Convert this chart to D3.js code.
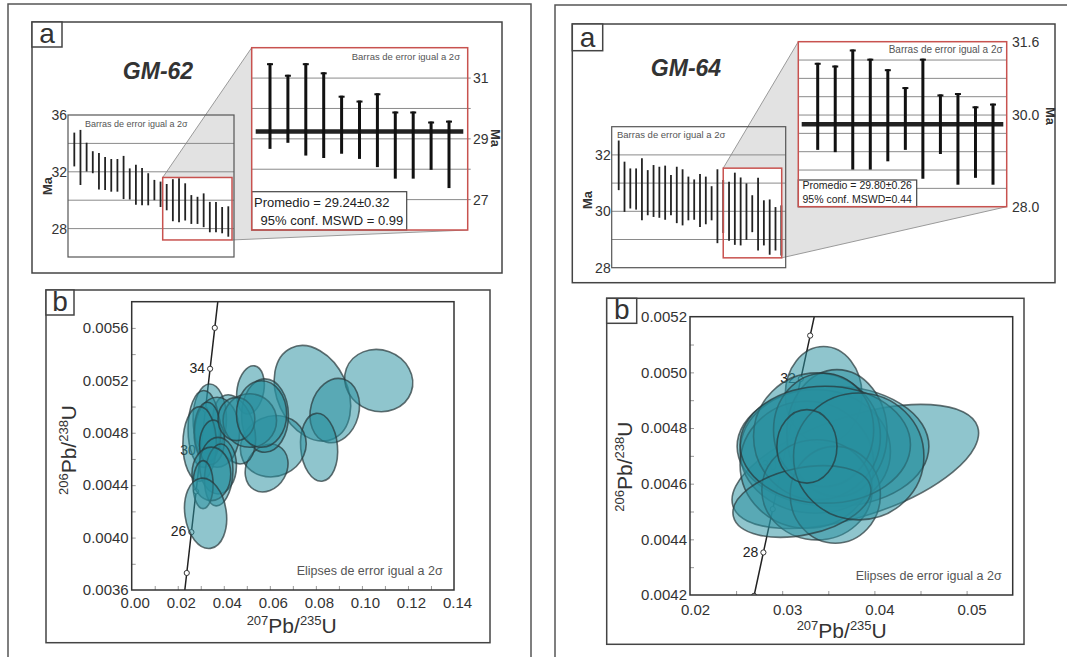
<!DOCTYPE html>
<html>
<head>
<meta charset="utf-8">
<script src="https://cdn.jsdelivr.net/npm/d3@7"></script>
<style>
body{margin:0;background:#fff;}
svg{display:block;}
</style>
</head>
<body>
<script>
var FONT = '"Liberation Sans", Arial, sans-serif';

// ---- a) weighted mean ages, Ma (2 sigma bars) ----
var gm62Hi = [34.76,34.95,34.05,33.45,33.33,33.05,32.90,32.90,33.12,32.24,32.50,32.26,31.90,31.43,31.31,31.14,31.48,31.55,31.19,30.36,30.24,30.48,29.88,29.88,29.52,29.57];
var gm62Lo = [32.38,31.07,32.02,31.90,30.76,30.71,30.60,30.60,30.08,30.05,29.68,29.64,29.64,30.00,29.52,29.29,28.52,28.45,28.57,28.33,28.33,28.10,27.74,27.74,27.67,27.43];
// zoomed (last 11 grains)
var gm62ZHi = [31.49,31.11,31.49,31.19,30.42,30.26,30.50,29.90,29.90,29.57,29.60];
var gm62ZLo = [28.67,28.87,28.45,28.37,28.51,28.34,28.07,27.69,27.69,27.98,27.38];
var gm62Mean = 29.24;

var gm64Hi = [32.51,31.76,31.52,31.52,31.88,31.46,31.64,31.58,31.62,31.29,31.58,31.49,31.23,31.13,31.32,31.23,30.89,31.49,31.11,31.05,31.37,31.20,30.99,30.57,31.19,30.39,30.42,30.15,30.21];
var gm64Lo = [30.75,29.98,30.10,30.06,29.68,29.86,29.80,29.77,29.70,29.86,29.58,29.50,29.68,29.70,29.44,29.54,29.68,28.87,29.23,28.96,28.81,28.79,28.99,29.26,28.61,28.79,28.46,28.61,28.43];
var gm64ZHi = [31.14,31.08,31.43,31.23,31.00,30.61,31.23,30.45,30.48,30.19,30.25];
var gm64ZLo = [29.24,29.19,28.81,28.81,28.99,29.24,28.61,29.15,28.48,28.63,28.48];
var gm64Mean = 29.80;

// tick labels
var gm62SmallTicks = [36,32,28];
var gm62SmallGrid = [28,30,32,34];
var gm62ZoomTicks = [31,29,27];
var gm62ZoomGrid = [27,28,29,30,31];
var gm64SmallTicks = [32,30,28];
var gm64SmallGrid = [29,30,31,32];
var gm64ZoomTicks = [31.6,30.0,28.0];
var gm64ZoomGrid = [28.4,28.8,29.2,29.6,30.0,30.4,30.8,31.2];

// ---- b) concordia ----
// [207Pb/235U, 206Pb/238U, 2s x, 2s y, tilt deg]
var gm62Ell = [
  [0.0785,0.005101,0.01527,0.000382,-25],
  [0.1073,0.005198,0.01497,0.000234,20],
  [0.0882,0.004969,0.01047,0.000249,15],
  [0.0814,0.004689,0.0080,0.000260,-5],
  [0.0615,0.004697,0.01454,0.000229,-25],
  [0.0586,0.004531,0.00872,0.000191,30],
  [0.0516,0.005127,0.00582,0.000186,10],
  [0.0579,0.004931,0.01018,0.000280,0],
  [0.0445,0.004826,0.00872,0.000270,-15],
  [0.0339,0.004905,0.00727,0.000267,0],
  [0.0313,0.004829,0.00683,0.000293,0],
  [0.0371,0.004804,0.00974,0.000267,0],
  [0.0329,0.004804,0.00582,0.000229,0],
  [0.0295,0.004714,0.00727,0.000285,0],
  [0.0349,0.004727,0.00538,0.000170,5],
  [0.0375,0.004549,0.00800,0.000216,0],
  [0.0378,0.004478,0.00610,0.000237,5],
  [0.0346,0.004486,0.00843,0.000204,0],
  [0.0310,0.004404,0.00436,0.000183,0],
  [0.0321,0.004185,0.00900,0.000270,-8],
  [0.0513,0.004893,0.01163,0.000204,0],
  [0.0455,0.004905,0.00800,0.000165,0],
  [0.0564,0.004943,0.01090,0.000254,0]
];
var gm64Ell = [
  [0.03449,0.004919,0.004167,0.000174,0],
  [0.03793,0.004662,0.01395,0.000180,-18],
  [0.03551,0.004734,0.01040,0.000216,0],
  [0.03359,0.004716,0.00815,0.000222,0],
  [0.03268,0.004668,0.00725,0.000228,0],
  [0.03594,0.004782,0.00544,0.000228,0],
  [0.03377,0.004770,0.00688,0.000228,0],
  [0.03449,0.004793,0.00543,0.000204,0],
  [0.03377,0.004578,0.00598,0.000180,0],
  [0.03576,0.004560,0.00489,0.000174,0],
  [0.03467,0.004740,0.00924,0.000210,0],
  [0.03214,0.004536,0.00761,0.000120,-12],
  [0.03830,0.004698,0.00707,0.000228,0],
  [0.03268,0.004734,0.00326,0.000132,0]
];

// concordia points, age Ma -> ratios
var concAge = [22,23,24,25,26,27,28,29,30,31,32,33,34,35,36,37,38,39,40];
var concR7 = [0.021903,0.022910,0.023918,0.024927,0.025937,0.026948,0.027960,0.028973,0.029986,0.031001,0.032017,0.033034,0.034052,0.035071,0.036091,0.037112,0.038133,0.039156,0.040180];
var concR6 = [0.0034186,0.0035742,0.0037299,0.0038857,0.0040414,0.0041971,0.0043529,0.0045087,0.0046646,0.0048204,0.0049763,0.0051322,0.0052882,0.0054441,0.0056001,0.0057561,0.0059121,0.0060682,0.0062243];

var gm62XTicks = [0,0.02,0.04,0.06,0.08,0.10,0.12,0.14];
var gm62YTicks = [0.0036,0.0040,0.0044,0.0048,0.0052,0.0056];
var gm62XMinor = [0.01,0.02,0.03,0.04,0.05,0.06,0.07,0.08,0.09,0.10,0.11,0.12,0.13];
var gm62YMinor = [0.0038,0.0040,0.0042,0.0044,0.0046,0.0048,0.0050,0.0052,0.0054,0.0056];
var gm64XTicks = [0.02,0.03,0.04,0.05];
var gm64YTicks = [0.0042,0.0044,0.0046,0.0048,0.0050,0.0052];
var gm64XMinor = [0.025,0.03,0.035,0.04,0.045,0.05];
var gm64YMinor = [0.0043,0.0044,0.0045,0.0046,0.0047,0.0048,0.0049,0.0050,0.0051];


var svg = d3.select("body").append("svg")
  .attr("width", 1067).attr("height", 657)
  .style("font-family", FONT);

// outer frames (run off the page)
svg.append("rect").attr("x", 8).attr("y", 4).attr("width", 523).attr("height", 700)
  .attr("fill", "none").attr("stroke", "#555").attr("stroke-width", 1.5);
svg.append("rect").attr("x", 555).attr("y", 5).attr("width", 600).attr("height", 700)
  .attr("fill", "none").attr("stroke", "#555").attr("stroke-width", 1.5);

var RED = "#c8524f";

function letterBox(g, x, y, w, h, t){
  g.append("rect").attr("x", x).attr("y", y).attr("width", w).attr("height", h)
    .attr("fill", "#fff").attr("stroke", "#444").attr("stroke-width", 1.5);
  g.append("text").attr("x", x + w/2).attr("y", y + h - 4).attr("text-anchor", "middle")
    .attr("font-size", 28).attr("fill", "#333").text(t);
}

function panelA(o){
  var g = svg.append("g");
  g.append("rect").attr("x", o.box[0]).attr("y", o.box[1]).attr("width", o.box[2]).attr("height", o.box[3])
    .attr("fill", "#fff").attr("stroke", "#444").attr("stroke-width", 1.5);
  letterBox(g, o.box[0], o.box[1], o.lab[0], o.lab[1], "a");

  g.append("text").attr("x", o.title[0]).attr("y", o.title[1]).attr("text-anchor", "middle")
    .attr("font-size", 23).attr("font-weight", "bold").attr("font-style", "italic")
    .attr("fill", "#333").text(o.name);

  var sf = o.sf, ins = o.inset;
  var sy = d3.scaleLinear().domain(o.sDom).range([sf[1] + sf[3], sf[1]]);
  var sx = d3.scaleLinear().domain([0, o.hi.length - 1]).range(o.barX);
  var iy = d3.scaleLinear().domain(o.iDom).range([ins[1] + ins[3], ins[1]]);
  var ix = d3.scaleLinear().domain([0, o.zHi.length - 1]).range(o.zX);

  // the zoom box in the small plot
  var rb = {x0: sx(o.zIdx[0]) - o.zPad[0], x1: sx(o.zIdx[1]) + o.zPad[1],
            y0: sy(o.zAge[1]), y1: sy(o.zAge[0])};

  // grey zoom wedge
  g.append("path")
    .attr("d", d3.line()([[rb.x0, rb.y0], [ins[0], ins[1]], [ins[0] + ins[2], ins[1] + ins[3]], [rb.x1, rb.y1], [rb.x1, rb.y0]]) + "Z")
    .attr("fill", "#e2e2e2");
  g.append("line").attr("x1", rb.x0).attr("y1", rb.y0).attr("x2", ins[0]).attr("y2", ins[1])
    .attr("stroke", "#9a9a9a");
  g.append("line").attr("x1", rb.x1).attr("y1", rb.y1).attr("x2", ins[0] + ins[2]).attr("y2", ins[1] + ins[3])
    .attr("stroke", "#9a9a9a");

  // small plot
  g.selectAll(".sg").data(o.sGrid).enter().append("line")
    .attr("x1", sf[0]).attr("x2", sf[0] + sf[2])
    .attr("y1", function(d){ return sy(d); }).attr("y2", function(d){ return sy(d); })
    .attr("stroke", "#8a8a8a").attr("stroke-width", 1);
  g.append("rect").attr("x", sf[0]).attr("y", sf[1]).attr("width", sf[2]).attr("height", sf[3])
    .attr("fill", "none").attr("stroke", "#555").attr("stroke-width", 1.2);
  g.selectAll(".st").data(o.sTicks).enter().append("text")
    .attr("x", sf[0] - 1).attr("y", function(d){ return sy(d); }).attr("dy", "0.35em")
    .attr("text-anchor", "end").attr("font-size", 14).attr("fill", "#333")
    .text(function(d){ return d; });
  g.append("text").attr("transform", "translate(" + o.sMa[0] + "," + o.sMa[1] + ") rotate(-90)")
    .attr("text-anchor", "middle").attr("font-size", 13).attr("font-weight", "bold").attr("fill", "#333").text("Ma");
  g.append("text").attr("x", o.sNote[0]).attr("y", o.sNote[1]).attr("font-size", o.sNote[2])
    .attr("fill", "#555").text("Barras de error igual a 2σ");

  g.selectAll(".sb").data(o.hi).enter().append("line")
    .attr("x1", function(d, i){ return sx(i); }).attr("x2", function(d, i){ return sx(i); })
    .attr("y1", function(d){ return sy(d); })
    .attr("y2", function(d, i){ return sy(o.lo[i]); })
    .attr("stroke", "#222").attr("stroke-width", 1.8);

  g.append("rect").attr("x", rb.x0).attr("y", rb.y0).attr("width", rb.x1 - rb.x0).attr("height", rb.y1 - rb.y0)
    .attr("fill", "none").attr("stroke", RED).attr("stroke-width", 1.5);

  // zoomed inset
  g.append("rect").attr("x", ins[0]).attr("y", ins[1]).attr("width", ins[2]).attr("height", ins[3])
    .attr("fill", "#fff");
  g.selectAll(".ig").data(o.iGrid).enter().append("line")
    .attr("x1", ins[0]).attr("x2", ins[0] + ins[2] + o.iGridOut)
    .attr("y1", function(d){ return iy(d); }).attr("y2", function(d){ return iy(d); })
    .attr("stroke", "#8a8a8a").attr("stroke-width", 1);
  g.selectAll(".it").data(o.iTicks).enter().append("text")
    .attr("x", o.iTickX).attr("y", function(d){ return iy(d); }).attr("dy", "0.35em")
    .attr("font-size", 14).attr("fill", "#333")
    .text(function(d){ return o.iFmt(d); });
  g.append("text").attr("transform", "translate(" + o.iMa[0] + "," + o.iMa[1] + ") rotate(90)")
    .attr("text-anchor", "middle").attr("font-size", 13).attr("font-weight", "bold").attr("fill", "#333").text("Ma");
  g.append("text").attr("x", o.iNote[0]).attr("y", o.iNote[1]).attr("font-size", o.iNote[2])
    .attr("text-anchor", "end").attr("fill", "#555").text("Barras de error igual a 2σ");

  // mean line
  g.append("line").attr("x1", o.meanX[0]).attr("x2", o.meanX[1])
    .attr("y1", iy(o.mean)).attr("y2", iy(o.mean))
    .attr("stroke", "#222").attr("stroke-width", 4.5);

  var zb = g.selectAll(".zb").data(o.zHi).enter().append("g");
  zb.append("line")
    .attr("x1", function(d, i){ return ix(i); }).attr("x2", function(d, i){ return ix(i); })
    .attr("y1", function(d){ return iy(d); })
    .attr("y2", function(d, i){ return iy(o.zLo[i]); })
    .attr("stroke", "#111").attr("stroke-width", 3);
  zb.append("line")
    .attr("x1", function(d, i){ return ix(i) - 3; }).attr("x2", function(d, i){ return ix(i) + 3; })
    .attr("y1", function(d){ return iy(d) + 1; }).attr("y2", function(d){ return iy(d) + 1; })
    .attr("stroke", "#111").attr("stroke-width", 2);

  // stats box
  var sb = o.stats;
  g.append("rect").attr("x", sb[0]).attr("y", sb[1]).attr("width", sb[2]).attr("height", sb[3])
    .attr("fill", "#fff").attr("stroke", "#444").attr("stroke-width", 1.2);
  o.statLines.forEach(function(l){
    g.append("text").attr("x", l[0]).attr("y", l[1]).attr("font-size", o.statSize).attr("fill", "#222").text(l[2]);
  });

  g.append("rect").attr("x", ins[0]).attr("y", ins[1]).attr("width", ins[2]).attr("height", ins[3])
    .attr("fill", "none").attr("stroke", RED).attr("stroke-width", 1.5);
}

function ratioLabel(sel, a, b, big, small){
  sel.append("tspan").attr("font-size", small).attr("dy", -8).text(a);
  sel.append("tspan").attr("font-size", big).attr("dy", 8).text("Pb/");
  sel.append("tspan").attr("font-size", small).attr("dy", -8).text(b);
  sel.append("tspan").attr("font-size", big).attr("dy", 8).text("U");
}

var clipN = 0;
function panelB(o){
  var g = svg.append("g");
  g.append("rect").attr("x", o.box[0]).attr("y", o.box[1]).attr("width", o.box[2]).attr("height", o.box[3])
    .attr("fill", "#fff").attr("stroke", "#444").attr("stroke-width", 1.5);
  letterBox(g, o.box[0], o.box[1], o.lab[0], o.lab[1], "b");

  var p = o.plot;
  var x = d3.scaleLinear().domain(o.xDom).range([p[0], p[0] + p[2]]);
  var y = d3.scaleLinear().domain(o.yDom).range([p[1] + p[3], p[1]]);

  var id = "clip" + (clipN++);
  g.append("clipPath").attr("id", id).append("rect")
    .attr("x", p[0]).attr("y", p[1]).attr("width", p[2]).attr("height", p[3]);

  // inward minor ticks
  g.append("g").attr("transform", "translate(0," + (p[1] + p[3]) + ")")
    .call(d3.axisBottom(x).tickValues(o.xMinor).tickSize(-4).tickFormat(""))
    .call(function(a){ a.select(".domain").remove(); a.selectAll("line").attr("stroke", "#999"); });
  g.append("g").attr("transform", "translate(" + p[0] + ",0)")
    .call(d3.axisLeft(y).tickValues(o.yMinor).tickSize(-4).tickFormat(""))
    .call(function(a){ a.select(".domain").remove(); a.selectAll("line").attr("stroke", "#999"); });

  // tick labels
  g.append("g").attr("transform", "translate(0," + (p[1] + p[3]) + ")")
    .call(d3.axisBottom(x).tickValues(o.xTicks).tickSize(0).tickPadding(o.xPad).tickFormat(o.xFmt))
    .call(function(a){
      a.select(".domain").remove();
      a.selectAll("text").attr("font-size", 15).attr("font-family", FONT).attr("fill", "#333").attr("dx", o.xShift);
    });
  g.append("g").attr("transform", "translate(" + p[0] + ",0)")
    .call(d3.axisLeft(y).tickValues(o.yTicks).tickSize(0).tickPadding(3).tickFormat(d3.format(".4f")))
    .call(function(a){
      a.select(".domain").remove();
      a.selectAll("text").attr("font-size", 15).attr("font-family", FONT).attr("fill", "#333");
    });

  // concordia
  var pts = concAge.map(function(t, i){ return [concR7[i], concR6[i], t]; });
  var cg = g.append("g").attr("clip-path", "url(#" + id + ")");
  cg.append("path").datum(pts)
    .attr("d", d3.line().x(function(d){ return x(d[0]); }).y(function(d){ return y(d[1]); }))
    .attr("fill", "none").attr("stroke", "#222").attr("stroke-width", 1.5);
  var mk = pts.filter(function(d){ return o.marks.indexOf(d[2]) >= 0; });
  cg.selectAll(".mk").data(mk).enter().append("circle")
    .attr("cx", function(d){ return x(d[0]); }).attr("cy", function(d){ return y(d[1]); })
    .attr("r", 2.6).attr("fill", "#fff").attr("stroke", "#333").attr("stroke-width", 1);
  g.selectAll(".ml").data(mk.filter(function(d){ return o.labels.indexOf(d[2]) >= 0; })).enter()
    .append("text")
    .attr("x", function(d){ return x(d[0]) - 5; }).attr("y", function(d){ return y(d[1]); }).attr("dy", "0.3em")
    .attr("text-anchor", "end").attr("font-size", 14).attr("fill", "#222")
    .text(function(d){ return d[2]; });

  // error ellipses
  g.selectAll(".el").data(o.ell).enter().append("ellipse")
    .attr("cx", function(d){ return x(d[0]); })
    .attr("cy", function(d){ return y(d[1]); })
    .attr("rx", function(d){ return x(d[0] + d[2]) - x(d[0]); })
    .attr("ry", function(d){ return y(d[1]) - y(d[1] + d[3]); })
    .attr("transform", function(d){ return "rotate(" + d[4] + "," + x(d[0]) + "," + y(d[1]) + ")"; })
    .attr("fill", "#28909f").attr("fill-opacity", 0.52)
    .attr("stroke", "#28393b").attr("stroke-opacity", 0.72).attr("stroke-width", 1.6);

  g.append("rect").attr("x", p[0]).attr("y", p[1]).attr("width", p[2]).attr("height", p[3])
    .attr("fill", "none").attr("stroke", "#333").attr("stroke-width", 1.5);

  g.append("text").attr("x", o.note[0]).attr("y", o.note[1]).attr("text-anchor", "end")
    .attr("font-size", o.note[2]).attr("fill", "#555").text("Elipses de error igual a 2σ");

  var yt = g.append("text").attr("transform", "translate(" + o.yTitle[0] + "," + o.yTitle[1] + ") rotate(-90)")
    .attr("text-anchor", "middle").attr("fill", "#333");
  ratioLabel(yt, "206", "238", 21, 13);
  var xt = g.append("text").attr("x", o.xTitle[0]).attr("y", o.xTitle[1])
    .attr("text-anchor", "middle").attr("fill", "#333");
  ratioLabel(xt, "207", "235", 21, 13);
}

panelA({
  name: "GM-62", box: [32, 22, 470, 251], lab: [30, 25], title: [158, 79],
  sf: [68, 115, 166, 142], sDom: [26, 36], sGrid: gm62SmallGrid, sTicks: gm62SmallTicks,
  hi: gm62Hi, lo: gm62Lo, barX: [74.3, 228.3], sMa: [52, 186], sNote: [85, 127, 9],
  zIdx: [15, 25], zAge: [27.2, 31.6], zPad: [4, 3.7],
  inset: [251.7, 47.7, 216, 182.3], iDom: [26, 32], iGrid: gm62ZoomGrid, iGridOut: 3,
  iTicks: gm62ZoomTicks, iTickX: 473, iFmt: d3.format("d"), iMa: [491, 138], iNote: [460, 60, 9.5],
  zHi: gm62ZHi, zLo: gm62ZLo, zX: [270, 449], mean: gm62Mean, meanX: [255.7, 463.3],
  stats: [251.7, 191.7, 155, 38.3], statSize: 13,
  statLines: [[254, 207, "Promedio = 29.24±0.32"], [260.5, 225, "95% conf. MSWD = 0.99"]]
});

panelA({
  name: "GM-64", box: [572.3, 24, 482.7, 258.7], lab: [30.4, 26.7], title: [686, 76],
  sf: [611.7, 126.7, 174, 141], sDom: [28, 33], sGrid: gm64SmallGrid, sTicks: gm64SmallTicks,
  hi: gm64Hi, lo: gm64Lo, barX: [618.7, 781.3], sMa: [592, 200], sNote: [617, 138, 9.5],
  zIdx: [18, 28], zAge: [28.35, 31.53], zPad: [0, 0.4],
  inset: [798.3, 41.7, 208.4, 165], iDom: [28, 31.6], iGrid: gm64ZoomGrid, iGridOut: 0,
  iTicks: gm64ZoomTicks, iTickX: 1012, iFmt: d3.format(".1f"), iMa: [1046, 116], iNote: [1002.7, 53.3, 10],
  zHi: gm64ZHi, zLo: gm64ZLo, zX: [817.7, 993], mean: gm64Mean, meanX: [801.7, 1003.3],
  stats: [798.3, 180, 118.4, 26.7], statSize: 10.5,
  statLines: [[802.5, 188.8, "Promedio = 29.80±0.26"], [802.5, 203, "95% conf. MSWD=0.44"]]
});

panelB({
  box: [46, 290, 444, 352.7], lab: [28, 25],
  plot: [131.7, 301.7, 322.3, 288.3], xDom: [0, 0.14], yDom: [0.0036, 0.0058],
  xTicks: gm62XTicks, yTicks: gm62YTicks, xMinor: gm62XMinor, yMinor: gm62YMinor,
  xFmt: d3.format(".2f"), xPad: 7, xShift: 3,
  marks: [24, 26, 28, 30, 32, 34, 36], labels: [26, 30, 34],
  ell: gm62Ell, note: [442.7, 575, 12.5], yTitle: [76, 450], xTitle: [291.7, 633]
});

panelB({
  box: [606.7, 298.3, 417.3, 346], lab: [30, 25],
  plot: [690, 316.7, 322.7, 278.3], xDom: [0.02, 0.055], yDom: [0.0042, 0.0052],
  xTicks: gm64XTicks, yTicks: gm64YTicks, xMinor: gm64XMinor, yMinor: gm64YMinor,
  xFmt: d3.format(".2f"), xPad: 9, xShift: 5,
  marks: [26, 27, 28, 29, 30, 31, 32, 33, 34], labels: [28, 30, 32],
  ell: gm64Ell, note: [1001.7, 580, 12.5], yTitle: [632, 466.7], xTitle: [841.7, 638]
});
</script>
</body>
</html>
